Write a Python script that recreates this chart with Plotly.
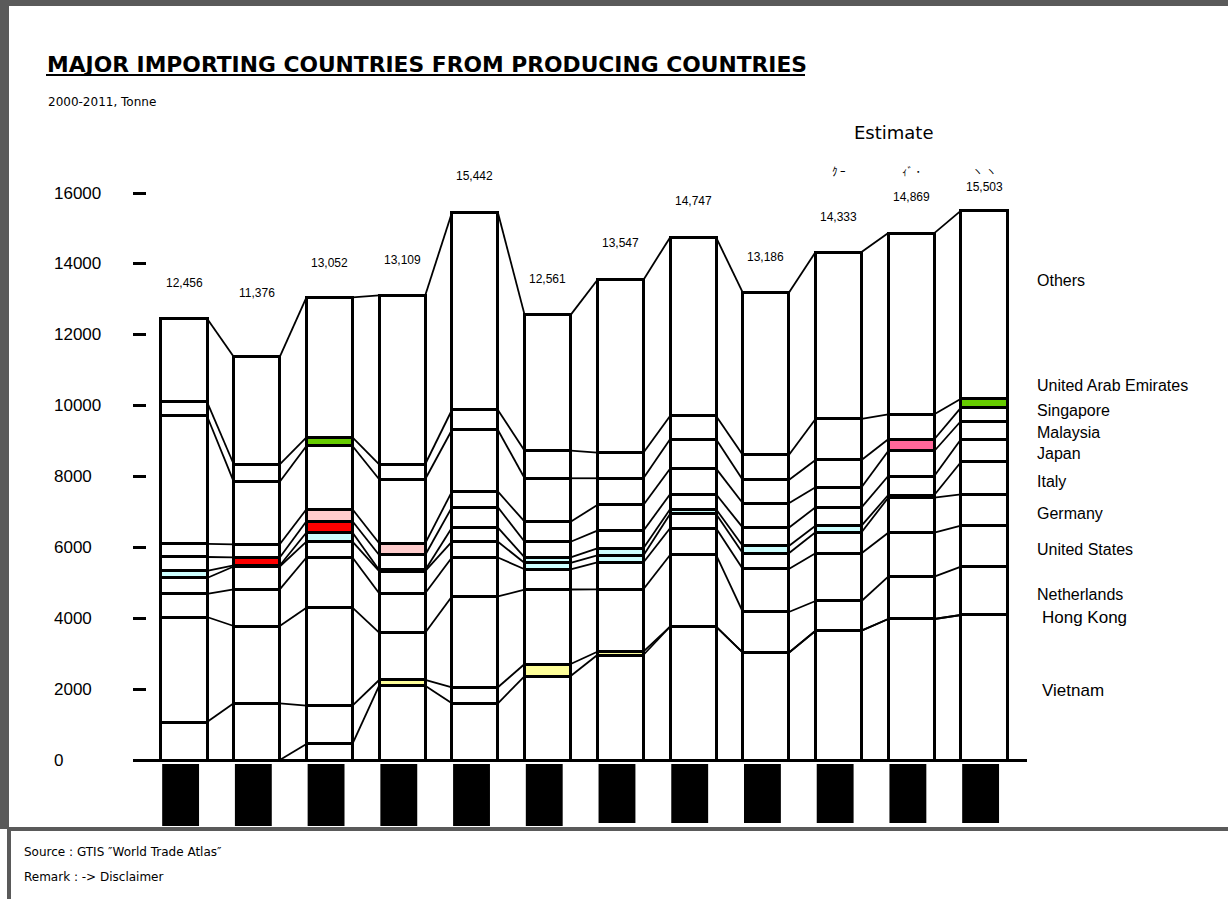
import plotly.graph_objects as go
import numpy as np

# ---------------- data ----------------
years = ["2000", "2001", "2002", "2003", "2004", "2005",
         "2006", "2007", "2008", "2009", "2010", "2011"]
totals = [12456, 11376, 13052, 13109, 15442, 12561, 13547, 14747, 13186, 14333, 14869, 15503]

vietnam = [0, 0, 453, 2096, 1600, 2370, 2963, 3762, 3028, 3649, 3979, 4092]
hong_kong = [1072, 1599, 1079, 162, 452, 339, 93, 0, 0, 0, 0, 0]
netherlands = [2963, 2182, 2766, 1334, 2562, 2102, 1761, 2023, 1149, 838, 1194, 1363]
united_states = [650, 1036, 1417, 1112, 1101, 571, 757, 753, 1213, 1346, 1241, 1157]
germany = [451, 643, 445, 626, 445, 178, 197, 404, 443, 593, 988, 886]
italy = [198, 30, 259, 32, 396, 160, 203, 133, 206, 186, 76, 912]
japan = [395, 225, 317, 423, 575, 440, 497, 423, 517, 519, 536, 640]
malaysia = [367, 372, 339, 330, 441, 565, 725, 723, 688, 565, 706, 516]
singapore = [3612, 1767, 1786, 1806, 1741, 1225, 754, 829, 658, 770, 330, 376]
uae = [395, 491, 246, 424, 564, 778, 722, 658, 705, 1157, 706, 253]
others = [2353, 3031, 3945, 4764, 5565, 3833, 4875, 5039, 4579, 4710, 5113, 5308]

countries = ["Vietnam", "Hong Kong", "Netherlands", "United States", "Germany",
             "Italy", "Japan", "Malaysia", "Singapore", "United Arab Emirates", "Others"]
series = [vietnam, hong_kong, netherlands, united_states, germany,
          italy, japan, malaysia, singapore, uae, others]

tick_values = [0, 2000, 4000, 6000, 8000, 10000, 12000, 14000, 16000]

# ---------------- styles ----------------
series_colors = ["#FFFFFF", "#FFFF99", "#FFFFFF", "#FFFFFF", "#CCFFFF",
                 "#CCFFFF", "#FF0000", "#FFCCCC", "#FF6699", "#66CC00", "#FFFFFF"]
SMALL = 350          # only thin segments show their fill colour in the original
BAR_W = 0.633
HW = BAR_W / 2

W, H = 1228, 899
L, R, T, B = 133, 201, 140, 65
PW, PH = W - L - R, H - T - B
PX_PER_UNIT = 567 / 16000.0          # y pixels per tonne
Y0_PX = 760                           # pixel row of value 0
Y_MIN = -(H - B - Y0_PX) / PX_PER_UNIT
Y_MAX = (Y0_PX - T) / PX_PER_UNIT
X_STEP = 800 / 11.0
X_MIN = -(184 - L) / X_STEP
X_MAX = 11 + (W - R - 984) / X_STEP


def px(x):
    return (x - L) / PW


def py(y):
    return (H - B - y) / PH


def yval(pix):
    return (Y0_PX - pix) / PX_PER_UNIT


FONT = "Liberation Sans, Arial, sans-serif"
WFONT = "DejaVu Sans, sans-serif"
xs = list(range(len(years)))

fig = go.Figure()

# stacked bars
for name, vals, col in zip(countries, series, series_colors):
    fills = [col if v < SMALL else "#FFFFFF" for v in vals]
    fig.add_trace(go.Bar(
        x=xs, y=vals, name=name, width=BAR_W,
        marker=dict(color=fills, line=dict(color="black", width=3)),
        hoverinfo="name+y",
    ))

# connector lines between adjacent bars at every stack boundary
cum = np.cumsum(np.array(series), axis=0)
for k in range(cum.shape[0]):
    lx, ly = [], []
    for i in range(len(years) - 1):
        lx += [i + HW, i + 1 - HW, None]
        ly += [cum[k][i], cum[k][i + 1], None]
    fig.add_trace(go.Scatter(x=lx, y=ly, mode="lines",
                             line=dict(color="black", width=1.8),
                             hoverinfo="skip", showlegend=False))

annotations = []
# total labels
label_shift = [36, 64, 34, 35, 37, 36, 37, 36, 36, 35, 36, 24]
for i, t in enumerate(totals):
    annotations.append(dict(x=i, y=t, xref="x", yref="y", text=f"{t:,}",
                            showarrow=False, yshift=label_shift[i], yanchor="middle",
                            font=dict(family=FONT, size=12, color="black")))

# y tick labels (left aligned like the original)
for v in tick_values:
    annotations.append(dict(x=px(52), y=v, xref="paper", yref="y", text=str(v),
                            showarrow=False, xanchor="left", yanchor="middle",
                            font=dict(family=FONT, size=17, color="black")))

# right-hand series labels
label_rows = {"Others": 280, "United Arab Emirates": 385, "Singapore": 410,
              "Malaysia": 432, "Japan": 453, "Italy": 481, "Germany": 513,
              "United States": 549, "Netherlands": 594, "Hong Kong": 617, "Vietnam": 690}
for name in countries:
    big = name in ("Hong Kong", "Vietnam")
    annotations.append(dict(x=px(1040 if big else 1035), y=yval(label_rows[name]),
                            xref="paper", yref="y", text=name, showarrow=False,
                            xanchor="left", yanchor="middle",
                            font=dict(family=FONT, size=17 if big else 16, color="black")))

# titles and notes
annotations += [
    dict(x=px(45), y=py(64), xref="paper", yref="paper", xanchor="left", yanchor="middle",
         text="<b>MAJOR IMPORTING COUNTRIES FROM PRODUCING COUNTRIES</b>", showarrow=False,
         font=dict(family=WFONT, size=21.8, color="black")),
    dict(x=px(46), y=py(102), xref="paper", yref="paper", xanchor="left", yanchor="middle",
         text="2000-2011, Tonne", showarrow=False,
         font=dict(family=WFONT, size=12, color="black")),
    dict(x=px(894), y=py(132), xref="paper", yref="paper", xanchor="center", yanchor="middle",
         text="Estimate", showarrow=False,
         font=dict(family=WFONT, size=18, color="black")),
    dict(x=px(22), y=py(852), xref="paper", yref="paper", xanchor="left", yanchor="middle",
         text="Source : GTIS \u2033World Trade Atlas\u2033", showarrow=False,
         font=dict(family=WFONT, size=12, color="black")),
    dict(x=px(22), y=py(877), xref="paper", yref="paper", xanchor="left", yanchor="middle",
         text="Remark : -> Disclaimer", showarrow=False,
         font=dict(family=WFONT, size=12, color="black")),
]
# garbled marks above the estimate bars
for i, s in zip([9, 10, 11], ["\uff78 \uff70", "\uff68\uff9e \uff65", "\u30fd \u30fd"]):
    annotations.append(dict(x=i, y=py(161), xref="x", yref="paper", text=s, showarrow=False,
                            font=dict(family="Noto Sans CJK JP", size=11, color="black")))

shapes = []
# title underline
shapes.append(dict(type="line", xref="paper", yref="paper", x0=px(46), x1=px(805),
                   y0=py(75), y1=py(75), line=dict(color="black", width=2)))
# black blocks under the bars (unrendered year labels)
for i in xs:
    bottom = 826 if i < 6 else 823
    shapes.append(dict(type="rect", xref="x", yref="y", x0=i - 0.30, x1=i + 0.207,
                       y0=yval(bottom), y1=yval(764), fillcolor="black",
                       line=dict(width=0), layer="above"))
# frame
GRAY = "#5A5A5A"
shapes += [
    dict(type="rect", xref="paper", yref="paper", x0=px(0), x1=px(W), y0=py(0), y1=py(6),
         fillcolor=GRAY, line=dict(width=0)),
    dict(type="rect", xref="paper", yref="paper", x0=px(0), x1=px(9), y0=py(0), y1=py(829),
         fillcolor=GRAY, line=dict(width=0)),
    dict(type="rect", xref="paper", yref="paper", x0=px(7), x1=px(11), y0=py(829), y1=py(H),
         fillcolor=GRAY, line=dict(width=0)),
    dict(type="rect", xref="paper", yref="paper", x0=px(7), x1=px(W), y0=py(827), y1=py(831),
         fillcolor=GRAY, line=dict(width=0)),
]

fig.update_layout(
    width=W, height=H, barmode="stack", showlegend=False,
    margin=dict(l=L, r=R, t=T, b=B, pad=0),
    paper_bgcolor="white", plot_bgcolor="rgba(0,0,0,0)",
    xaxis=dict(range=[X_MIN, X_MAX], showgrid=False, zeroline=False,
               showticklabels=False, ticks="", showline=False, fixedrange=True),
    yaxis=dict(range=[Y_MIN, Y_MAX], showgrid=False, zeroline=True,
               zerolinecolor="black", zerolinewidth=3,
               tickvals=tick_values, ticks="inside", ticklen=13, tickwidth=3,
               tickcolor="black", showticklabels=False, showline=False, fixedrange=True),
    annotations=annotations, shapes=shapes,
)

fig.write_html("out.html", config={"displayModeBar": False},
               post_script="document.body.style.margin='0px';document.body.style.overflow='hidden';")
